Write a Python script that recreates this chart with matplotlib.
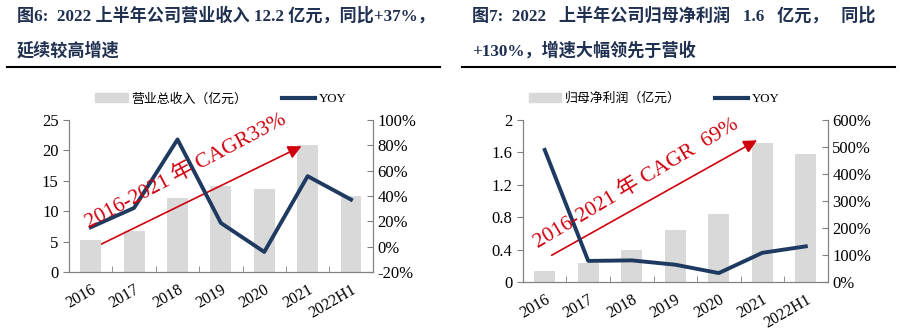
import matplotlib
matplotlib.use("Agg")
import matplotlib.pyplot as plt
from matplotlib.lines import Line2D
import numpy as np

plt.rcParams['font.family'] = ['Liberation Serif', 'Noto Sans CJK SC']

categories = ['2016', '2017', '2018', '2019', '2020', '2021', '2022H1']
revenue = [5.2, 6.7, 12.2, 14.2, 13.6, 20.9, 12.5]
revenue_yoy = [15.3, 30.6, 84.7, 18.7, -4.2, 55.7, 37.2]
profit = [0.14, 0.235, 0.40, 0.64, 0.845, 1.72, 1.58]
profit_yoy = [489, 78, 80, 64, 33, 108, 132]

title1 = ['图6:  2022 上半年公司营业收入 12.2 亿元，同比+37%，', '延续较高增速']
title2 = ['图7:  2022   上半年公司归母净利润   1.6   亿元，   同比', '+130%，增速大幅领先于营收']
legend1 = ['营业总收入（亿元）', 'YOY']
legend2 = ['归母净利润（亿元）', 'YOY']
cagr1 = '2016-2021 年 CAGR33%'
cagr2 = '2016-2021 年 CAGR  69%'

BAR = '#d9d9d9'
LINE = '#1f3a60'
RED = '#d0000d'
TITLE = '#1f3050'
SPINE = '#808080'

fig = plt.figure(figsize=(9.23, 3.30), dpi=100)

def panel(rect, bars, yoy, ylim, yticks, yfmt, y2lim, y2ticks, legend, cagr, arrow,
          text_xy, rot, leg_x):
    ax = fig.add_axes(rect)
    x = np.arange(len(categories))
    ax.bar(x, bars, width=0.48, color=BAR, zorder=1)
    ax.set_xlim(-0.5, 6.5)
    ax.set_ylim(*ylim)
    ax.set_yticks(yticks)
    ax.set_yticklabels([yfmt(v) for v in yticks], fontsize=12)
    ax.set_xticks(x)
    ax.set_xticklabels(categories, rotation=30, fontsize=11.5, ha='right',
                       rotation_mode='anchor')
    ax.set_xticks(np.arange(0.5, 6.5, 1), minor=True)
    ax.tick_params(axis='x', which='major', length=0, pad=7)
    ax.tick_params(axis='x', which='minor', direction='in', length=4, color=SPINE)
    ax.tick_params(axis='y', direction='out', length=4, color=SPINE)
    ax.spines['top'].set_visible(False)
    for s in ['left', 'bottom', 'right']:
        ax.spines[s].set_color(SPINE)
    ax2 = ax.twinx()
    ax2.plot(x, yoy, color=LINE, lw=2.8, zorder=3)
    ax2.set_ylim(*y2lim)
    ax2.set_yticks(y2ticks)
    ax2.set_yticklabels(['%d%%' % v for v in y2ticks], fontsize=12)
    ax2.tick_params(axis='y', direction='in', length=4, color=SPINE)
    ax2.spines['top'].set_visible(False)
    for s in ['left', 'bottom', 'right']:
        ax2.spines[s].set_color(SPINE)
    ax.set_zorder(ax2.get_zorder() - 1)
    ax2.patch.set_visible(False)
    ax.annotate('', xy=arrow[1], xytext=arrow[0], xycoords='data',
                arrowprops=dict(arrowstyle='-|>', color=RED, lw=1.2,
                                mutation_scale=20, shrinkA=0, shrinkB=0), zorder=5)
    ax2.text(text_xy[0], text_xy[1], cagr, transform=ax.transData, rotation=rot,
             rotation_mode='anchor', ha='center', va='center', color=RED,
             fontsize=15.5, zorder=6)
    handles = [plt.Rectangle((0, 0), 1, 1, color=BAR), Line2D([], [], color=LINE, lw=3)]
    ax.legend(handles, legend, loc='lower center', bbox_to_anchor=(leg_x, 1.02),
              ncol=2, frameon=False, columnspacing=2.7,
              handlelength=2.5, handletextpad=0.3, prop={'size': 9.3})
    return ax, ax2

panel([0.0748, 0.176, 0.329, 0.46], revenue, revenue_yoy, (0, 25), [0, 5, 10, 15, 20, 25],
      lambda v: '%d' % v, (-20, 100), [-20, 0, 20, 40, 60, 80, 100], legend1, cagr1,
      ((0.25, 4.6), (4.86, 20.7)), (2.2, 16.6), 28, 0.5)
panel([0.5666, 0.1455, 0.330, 0.491], profit, profit_yoy, (0, 2), [0, 0.4, 0.8, 1.2, 1.6, 2.0],
      lambda v: '%g' % v, (0, 600), [0, 100, 200, 300, 400, 500, 600], legend2, cagr2,
      ((0.16, 0.33), (4.88, 1.75)), (2.1, 1.22), 31, 0.43)

# titles
for (x0, lines, ux) in [(17, title1, (7, 440)), (472, title2, (462, 895))]:
    fig.text(x0 / 923, 1 - 16 / 330, lines[0], fontsize=12.3, fontweight='bold',
             color=TITLE, va='center', ha='left')
    fig.text(x0 / 923, 1 - 51 / 330, lines[1], fontsize=12.3, fontweight='bold',
             color=TITLE, va='center', ha='left')
    fig.add_artist(Line2D([ux[0] / 923, ux[1] / 923], [1 - 67 / 330, 1 - 67 / 330],
                          color='black', lw=1.5))

fig.savefig('out.png', dpi=100)
